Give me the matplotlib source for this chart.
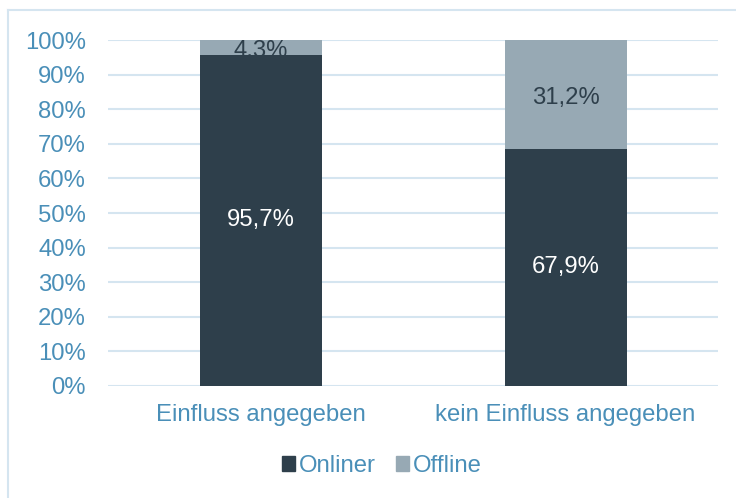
import matplotlib
matplotlib.use("Agg")
import matplotlib.pyplot as plt
from matplotlib.lines import Line2D
import numpy as np

categories = ["Einfluss angegeben", "kein Einfluss angegeben"]
onliner = [95.7, 67.9]
offline = [4.3, 31.2]
onliner_labels = ["95,7%", "67,9%"]
offline_labels = ["4,3%", "31,2%"]
yticks = [0, 10, 20, 30, 40, 50, 60, 70, 80, 90, 100]
ytick_labels = [f"{v}%" for v in yticks]

plt.rcParams['font.family'] = ['Liberation Sans', 'DejaVu Sans']

c_on = "#2E3F4B"
c_off = "#97A9B4"
c_txt = "#4A8FB8"
c_grid = "#D5E5F0"
fs = 17.2

fig = plt.figure(figsize=(7.36, 4.98), dpi=100)
ax = fig.add_axes([108/736, 1-386/498, 610/736, 346/498])

on = np.array(onliner)
off = np.array(offline)
tot = on + off
on_n = on / tot * 100
off_n = off / tot * 100
x = np.arange(len(categories))

ax.set_axisbelow(True)
ax.yaxis.grid(True, color=c_grid, linewidth=1.5)
ax.bar(x, on_n, width=0.4, color=c_on, zorder=3)
ax.bar(x, off_n, width=0.4, bottom=on_n, color=c_off, zorder=3)

for i in range(len(x)):
    ax.text(x[i], on_n[i]/2, onliner_labels[i], ha="center", va="center",
            color="white", fontsize=fs, zorder=4)
    ax.text(x[i], on_n[i] + off_n[i]/2 - 1.0, offline_labels[i], ha="center", va="center",
            color=c_on, fontsize=fs, zorder=4)

ax.set_xlim(-0.5, 1.5)
ax.set_ylim(0, 100)
ax.set_yticks(yticks)
ax.set_yticklabels(ytick_labels)
ax.set_xticks(x)
ax.set_xticklabels(categories)
ax.tick_params(axis="both", length=0, colors=c_txt, labelsize=fs)
ax.tick_params(axis="y", pad=16)
ax.tick_params(axis="x", pad=13)
for s in ax.spines.values():
    s.set_visible(False)

handles = [plt.Rectangle((0, 0), 1, 1, color=c_on), plt.Rectangle((0, 0), 1, 1, color=c_off)]
leg = fig.legend(handles, ["Onliner", "Offline"], loc="center", bbox_to_anchor=(382/736, 1-466/498),
                 ncol=2, frameon=False, fontsize=fs, handlelength=0.55, handleheight=0.55,
                 handletextpad=0.15, columnspacing=0.85)
for t in leg.get_texts():
    t.set_color(c_txt)

# outer frame (left and top edges visible)
fig.add_artist(Line2D([8/736, 8/736], [0, 1-10/498], color=c_grid, linewidth=1.5, transform=fig.transFigure))
fig.add_artist(Line2D([8/736, 1], [1-10/498, 1-10/498], color=c_grid, linewidth=1.5, transform=fig.transFigure))

fig.savefig("out.png", dpi=100)
